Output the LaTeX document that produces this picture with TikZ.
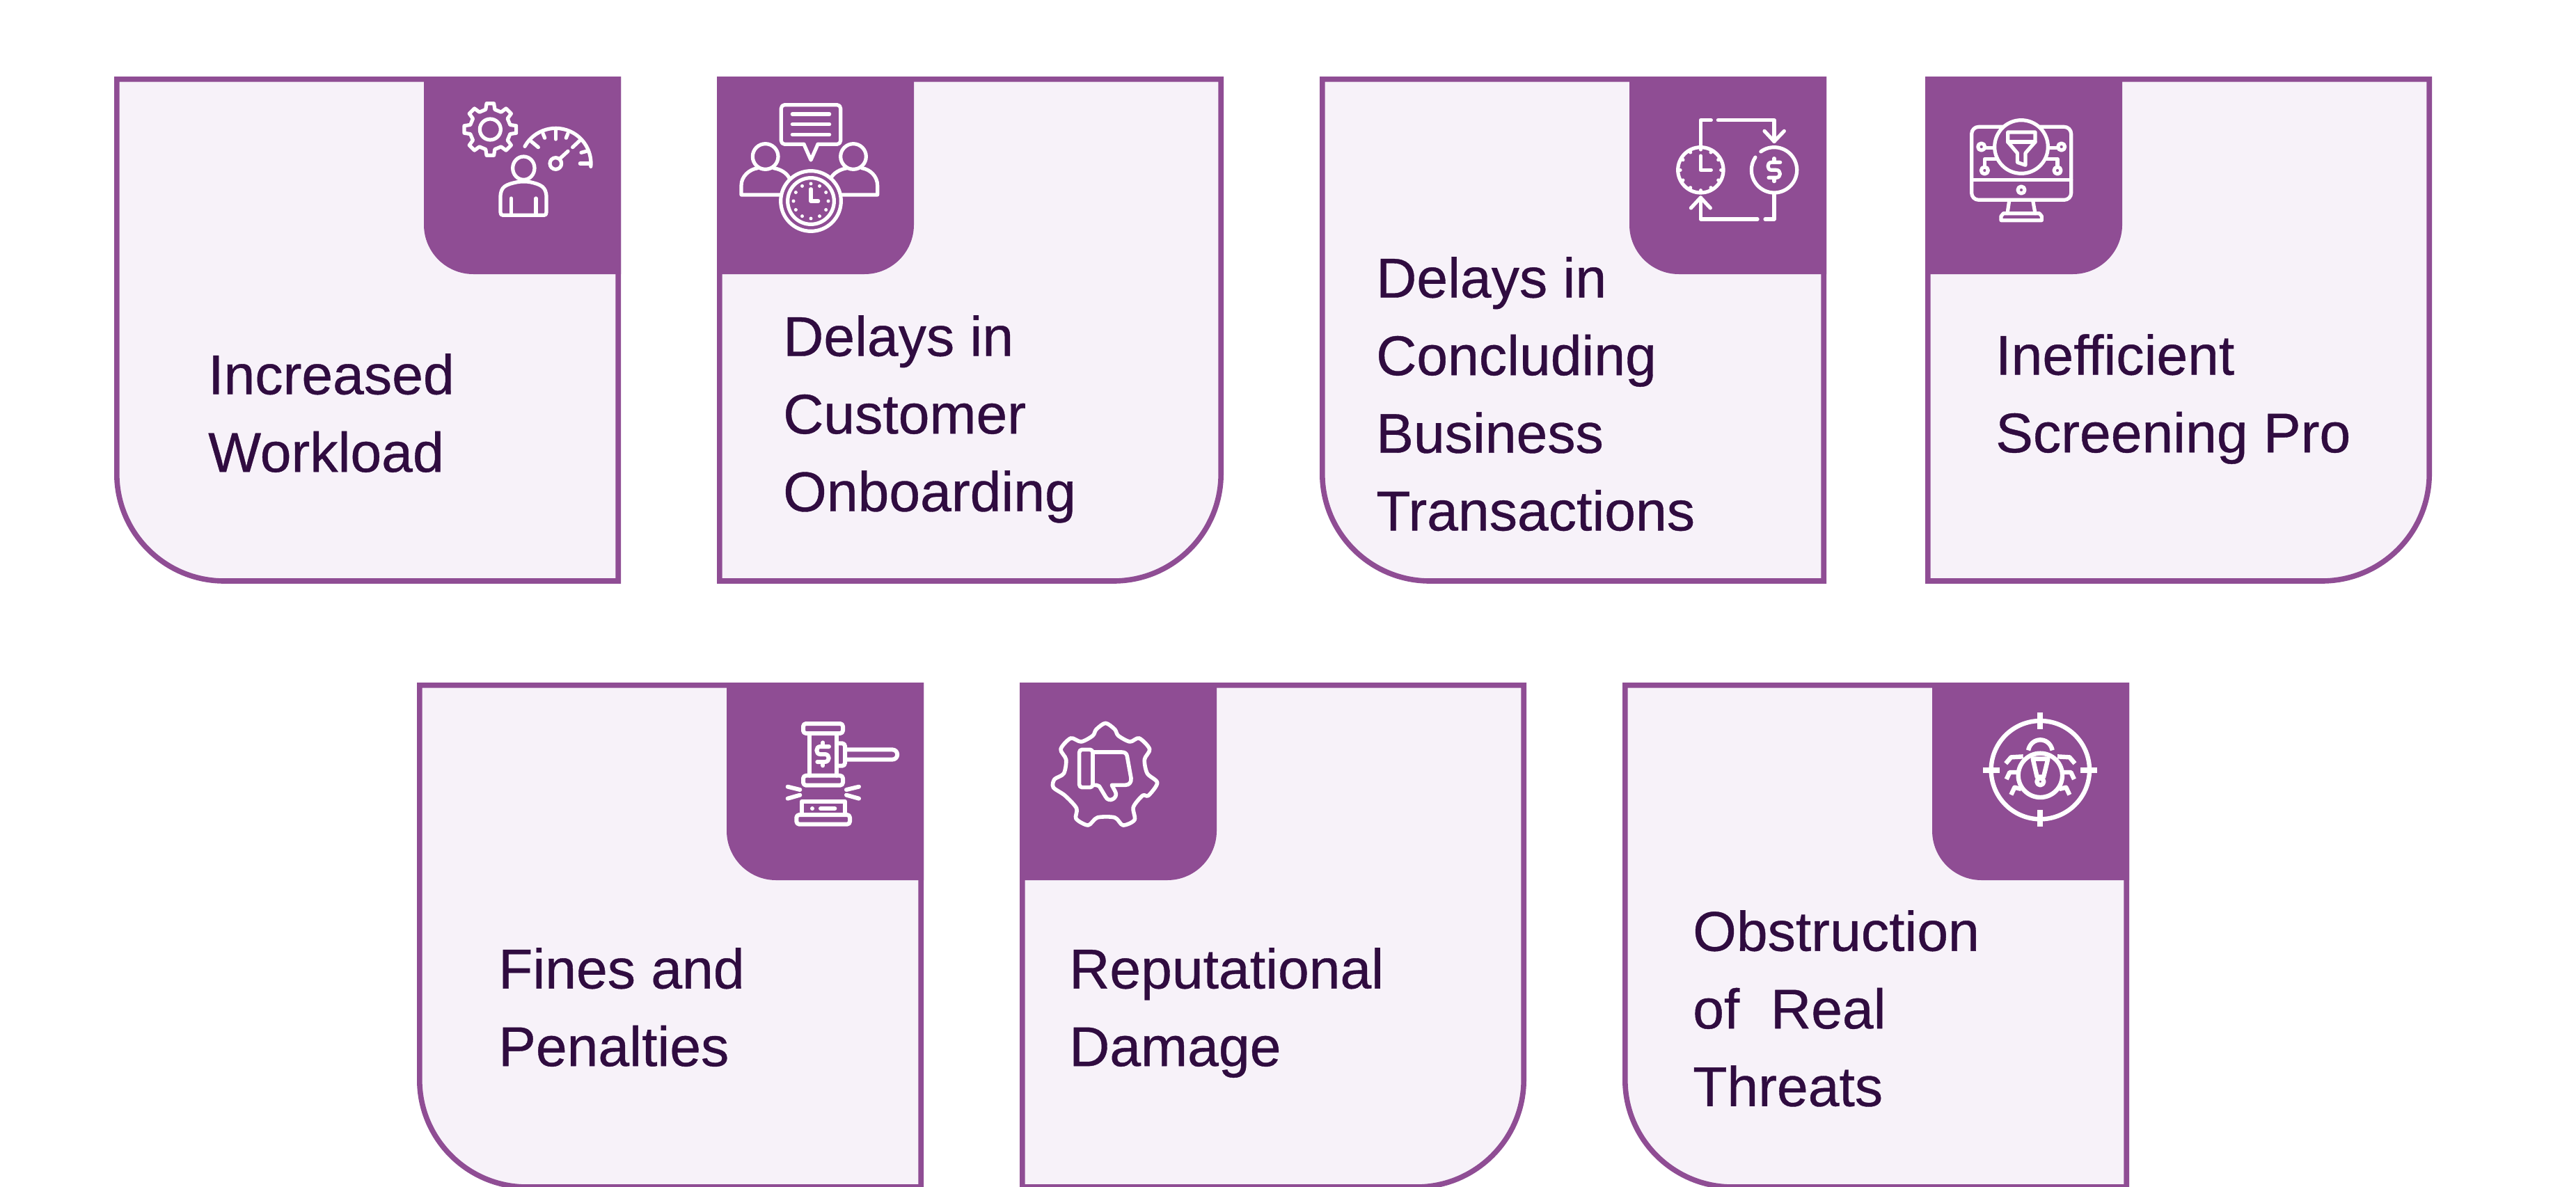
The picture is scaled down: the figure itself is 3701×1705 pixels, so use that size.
\documentclass[tikz,border=0pt]{standalone}
\usepackage{fontspec}
\setmainfont{Liberation Sans}
\newfontfamily\cardfont{Liberation Sans}[FakeBold=0.5]
\definecolor{pp}{HTML}{8F4D94}
\definecolor{lightfill}{HTML}{F7F2F9}
\definecolor{inkc}{HTML}{300C40}
\tikzset{
  cardline/.style={draw=pp,line width=7.6pt,fill=lightfill},
  tabfill/.style={fill=pp,draw=none},
  ic/.style={draw=white,line width=5.2pt,line cap=round,line join=round},
  icf/.style={fill=white,draw=none},
  cardtext/.style={anchor=north west,inner sep=0pt,align=left,text=inkc,font=\cardfont\fontsize{80.5}{111.6}\selectfont},
  zoomed/.style={shift={#1},x=0.33333pt,y=-0.33333pt},
}
% card with rounded bottom-left corner and tab at top right
\newcommand{\cardBL}[2]{%
  \begin{scope}[shift={(#1,#2)}]
    \path[cardline] (3.8,3.8) -- (724.2,3.8) -- (724.2,725) -- (158,725) .. controls (73,725) and (3.8,656) .. (3.8,571) -- cycle;
    \path[tabfill] (445,0) -- (728,0) -- (728,284) -- (516,284) .. controls (476.8,284) and (445,252.2) .. (445,213) -- cycle;
  \end{scope}}
% card with rounded bottom-right corner and tab at top left
\newcommand{\cardBR}[2]{%
  \begin{scope}[shift={(#1,#2)}]
    \path[cardline] (3.8,3.8) -- (724.2,3.8) -- (724.2,571) .. controls (724.2,656) and (655,725) .. (570,725) -- (3.8,725) -- cycle;
    \path[tabfill] (0,0) -- (283,0) -- (283,213) .. controls (283,252.2) and (251.2,284) .. (212,284) -- (0,284) -- cycle;
  \end{scope}}
\newcommand{\dollarmark}[2]{%
  \begin{scope}[shift={(#1,#2)}]
    \draw[ic] (26,-33) -- (-12,-33) .. controls (-32,-33) and (-32,0) .. (-12,0) -- (8,0) .. controls (31,0) and (31,33) .. (8,33) -- (-24,33);
    \draw[ic] (0,-50) -- (0,-35);
    \draw[ic] (0,35) -- (0,49);
  \end{scope}}
\begin{document}
\begin{tikzpicture}[x=1pt,y=-1pt]
\useasboundingbox (0,0) rectangle (3701,1705);
\clip (0,0) rectangle (3701,1705);
\fill[white] (0,0) rectangle (3701,1705);

\cardBL{164}{110}
\cardBR{1030}{110}
\cardBL{1896}{110}
\cardBR{2766}{110}
\cardBL{599}{981}
\cardBR{1465}{981}
\cardBL{2331}{981}

\node[cardtext] (t1) at (299,508) {Increased\\Workload};
\node[cardtext] (t2) at (1125,453) {Delays in\\Customer\\Onboarding};
\node[cardtext] (t3) at (1977,369) {Delays in\\Concluding\\Business\\Transactions};
\node[cardtext] (t4) at (2867,480) {Inefficient\\Screening Pro};
\node[cardtext] (t5) at (716,1362) {Fines and\\Penalties};
\node[cardtext] (t6) at (1536,1362) {Reputational\\Damage};
\node[cardtext] (t7) at (2432,1308) {Obstruction\\of\ \ Real\\Threats};

% icon 1: gear, gauge, person
\begin{scope}[zoomed={(600,100)}]
  \draw[ic,shift={(313,258)}] (-103:88) \foreach \a in {0,45,...,315}{ -- ({\a-13-90}:88) -- ({\a-8-90}:113) -- ({\a+8-90}:113) -- ({\a+13-90}:88)} -- cycle;
  \draw[ic] (313,258) circle[radius=45];
  \draw[ic] (595,405) ++(209:152) arc[start angle=209,end angle=365,radius=152];
  \draw[ic] (490,310) -- (520,335);
  \draw[ic] (540,275) -- (548,295);
  \draw[ic] (595,262) -- (595,300);
  \draw[ic] (648,275) -- (640,295);
  \draw[ic] (700,305) -- (668,335);
  \draw[ic] (728,352) -- (705,358);
  \draw[ic] (745,405) -- (700,405);
  \draw[ic] (595,405) circle[radius=25];
  \draw[ic] (612,385) -- (648,352);
  \draw[ic] (457,425) ellipse[x radius=47,y radius=50];
  \draw[ic] (430,485) .. controls (380,495) and (357,505) .. (357,550) -- (357,615) .. controls (357,624) and (360,628) .. (368,628) -- (545,628) .. controls (552,628) and (555,624) .. (555,615) -- (555,550) .. controls (555,505) and (530,495) .. (485,485) .. controls (470,482) and (445,482) .. (430,485) -- cycle;
  \draw[ic] (403,555) -- (403,625);
  \draw[ic] (510,555) -- (510,625);
\end{scope}

% icon 2: two people, speech bubble, clock
\begin{scope}[zoomed={(1030,100)}]
  \draw[ic,rounded corners=5pt] (375,322) -- (277,322) -- (277,152) -- (533,152) -- (533,322) -- (435,322);
  \draw[ic] (375,322) -- (405,390) -- (435,322);
  \foreach \yy in {192,236,280} \draw[ic] (325,\yy) -- (485,\yy);
  \draw[ic] (209,375) circle[radius=55];
  \draw[ic] (588,375) circle[radius=55];
  \draw[ic] (275,540) -- (105,540) -- (105,500) .. controls (105,460) and (140,430) .. (175,425);
  \draw[ic] (245,425) .. controls (275,430) and (300,445) .. (312,468);
  \draw[ic] (535,540) -- (692,540) -- (692,500) .. controls (692,460) and (660,430) .. (625,425);
  \draw[ic] (560,425) .. controls (530,430) and (505,445) .. (493,465);
  \draw[ic] (405,567) circle[radius=130];
  \draw[ic] (405,567) circle[radius=100];
  \foreach \a in {0,30,...,330} \fill[white] (405,567) ++(\a:75) circle[radius=7.5];
  \draw[ic] (405,515) -- (405,567) -- (437,567);
\end{scope}

% icon 3: clock and money cycle
\begin{scope}[zoomed={(2340,100)}]
  \draw[ic] (310,433) circle[radius=98];
  \foreach \a in {0,30,...,330} \draw[ic] (310,433) ++(\a:96) -- ++(\a:-8);
  \draw[ic] (310,372) -- (310,433) -- (355,433);
  \draw[ic] (627,433) ++(234:98) arc[start angle=234,end angle=574,radius=98];
  \dollarmark{627}{433}
  \draw[ic] (310,330) -- (310,218) -- (355,218);
  \draw[ic] (385,218) -- (627,218) -- (627,310);
  \draw[ic] (585,265) -- (627,310) -- (670,265);
  \draw[ic] (627,535) -- (627,645) -- (588,645);
  \draw[ic] (555,645) -- (310,645) -- (310,552);
  \draw[ic] (268,597) -- (310,552) -- (352,597);
\end{scope}

% icon 4: monitor with funnel
\begin{scope}[zoomed={(2770,100)}]
  \draw[ic,rounded corners=10pt] (188,247) rectangle (617,562);
  \draw[ic] (188,475) -- (617,475);
  \draw[ic,fill=pp] (402,333) circle[radius=115];
  \draw[ic] (402,519) circle[radius=15];
  \draw[ic] (350,565) -- (342,620);
  \draw[ic] (452,565) -- (462,620);
  \draw[ic] (325,620) -- (480,620) -- (490,632) -- (490,650) -- (315,650) -- (315,632) -- cycle;
  \draw[ic] (344,270) -- (462,270) -- (462,312) -- (420,360) -- (420,412) -- (385,400) -- (385,360) -- (344,312) -- cycle;
  \draw[ic] (344,312) -- (462,312);
  \draw[ic] (230,333) circle[radius=15];
  \draw[ic] (245,338) -- (285,338);
  \draw[ic] (575,333) circle[radius=15];
  \draw[ic] (560,338) -- (520,338);
  \draw[ic] (244,435) circle[radius=15];
  \draw[ic] (244,420) -- (244,385) -- (295,385);
  \draw[ic] (558,435) circle[radius=15];
  \draw[ic] (558,420) -- (558,385) -- (510,385);
\end{scope}

% icon 5: gavel
\begin{scope}[zoomed={(1040,980)},ic/.append style={line width=6pt}]
  \draw[ic,rounded corners=4pt] (342,180) rectangle (513,222);
  \draw[ic,rounded corners=4pt] (342,404) rectangle (513,446);
  \draw[ic] (370,222) -- (370,404);
  \draw[ic] (485,222) -- (485,404);
  \draw[ic,rounded corners=4pt] (490,265) -- (522,265) -- (522,362) -- (490,362);
  \draw[ic] (525,292) -- (725,292) .. controls (755,292) and (755,335) .. (725,335) -- (525,335);
  \dollarmark{427}{312}
  \draw[ic] (275,452) -- (328,465);
  \draw[ic] (275,503) -- (328,488);
  \draw[ic] (528,465) -- (582,452);
  \draw[ic] (528,488) -- (582,503);
  \draw[ic] (335,567) -- (335,515) -- (522,515) -- (522,567);
  \draw[ic,rounded corners=4pt] (313,573) rectangle (543,614);
  \fill[white] (381,546) circle[radius=9];
  \draw[ic] (417,546) -- (478,546);
\end{scope}

% icon 6: gear with thumb down
\begin{scope}[zoomed={(1460,980)},ic/.append style={line width=5.6pt}]
  \draw[ic] plot[smooth cycle,tension=0.5] coordinates {(345,205) (385,178) (425,205) (440,232) (490,258) (530,243) (575,290) (553,335) (565,395) (608,435) (570,490) (545,490) (505,540) (510,595) (460,618) (425,585) (350,585) (310,618) (258,590) (260,545) (210,490) (160,455) (165,420) (205,395) (215,335) (192,290) (235,243) (280,258) (330,232)};
  \draw[ic,rounded corners=4pt] (272,292) rectangle (330,455);
  \draw[ic] (330,303) -- (455,303) .. controls (470,303) and (476,310) .. (478,320) -- (495,415) .. controls (497,432) and (488,445) .. (470,445) -- (412,445) -- (428,475) .. controls (440,500) and (400,525) .. (385,495) -- (358,450) .. controls (352,445) and (345,445) .. (330,445);
\end{scope}

% icon 7: bug in crosshair
\begin{scope}[zoomed={(2770,980)},ic/.append style={line width=6.4pt,line cap=butt}]
  \draw[ic] (484,380) circle[radius=212];
  \draw[ic,line width=8pt] (484,133) -- (484,203);
  \draw[ic,line width=8pt] (484,553) -- (484,623);
  \draw[ic,line width=8pt] (238,380) -- (308,380);
  \draw[ic,line width=8pt] (658,380) -- (728,380);
  \draw[ic] (484,403) circle[radius=95];
  \draw[ic] (432,295) .. controls (445,235) and (523,235) .. (536,295);
  \draw[ic] (335,352) -- (358,325) -- (410,322);
  \draw[ic] (633,352) -- (610,325) -- (558,322);
  \draw[ic] (338,420) -- (352,390) -- (388,390);
  \draw[ic] (630,420) -- (616,390) -- (580,390);
  \draw[ic] (358,487) -- (373,455) -- (402,462);
  \draw[ic] (610,487) -- (595,455) -- (566,462);
  \draw[ic] (452,332) -- (517,332) -- (498,410) -- (470,410) -- cycle;
  \draw[ic] (484,430) circle[radius=15];
\end{scope}
\end{tikzpicture}
\end{document}
